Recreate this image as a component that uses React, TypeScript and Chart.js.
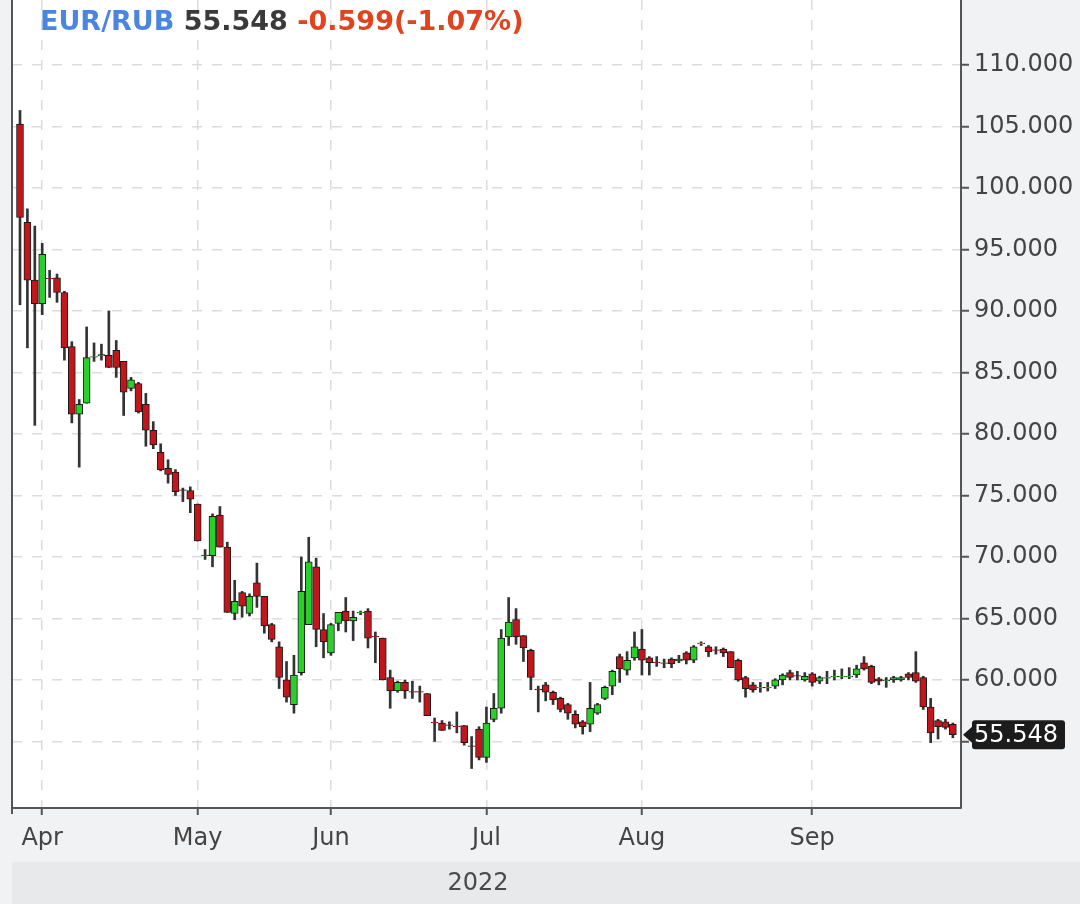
import React, { useEffect, useRef } from 'react';
import { Chart, registerables } from 'chart.js';

Chart.register(...registerables);

// ---- data (trading-day candles, 29 Mar 2022 .. 28 Sep 2022) ----
const opens = [
  105.2, 97.2, 92.5, 90.6, 92.65, 92.7, 91.5, 87.1, 81.6, 82.5,
  86.25, 86.35, 86.4, 86.8, 85.9, 83.7, 84.1, 82.4, 80.3, 78.5,
  77.2, 76.9, 75.45, 75.4, 74.3, 70.15, 70.1, 73.4, 70.8, 65.4,
  67.1, 65.4, 67.9, 66.8, 64.5, 62.7, 60.0, 58.0, 60.6, 64.5,
  69.2, 64.1, 62.2, 64.6, 65.6, 64.8, 65.45, 65.6, 63.55, 63.4,
  60.2, 59.1, 59.8, 59.05, 59.05, 58.9, 56.55, 56.5, 56.35, 56.25,
  56.3, 54.65, 56.0, 53.7, 56.8, 57.7, 63.5, 64.9, 63.6, 62.4,
  59.25, 59.6, 59.0, 58.5, 58.0, 57.2, 56.6, 56.4, 57.3, 58.5,
  59.5, 61.9, 60.8, 61.8, 62.5, 61.8, 61.45, 61.35, 61.7, 61.55,
  62.2, 61.6, 62.95, 62.7, 62.45, 62.5, 62.3, 61.6, 60.2, 59.6,
  59.35, 59.35, 59.5, 60.0, 60.6, 60.35, 60.0, 60.5, 59.9, 60.15,
  60.25, 60.25, 60.25, 60.4, 61.4, 61.1, 60.1, 59.95, 60.0, 60.0,
  60.5, 60.6, 60.2, 57.8, 56.7, 56.6, 56.4,
];
const highs = [
  106.3, 98.3, 96.9, 95.5, 93.3, 93.0, 91.6, 87.5, 82.8, 88.7,
  87.4, 87.3, 90.0, 87.6, 85.9, 84.6, 84.2, 83.3, 81.0, 79.2,
  77.9, 77.1, 75.6, 75.7, 74.3, 70.6, 73.5, 74.1, 71.2, 68.1,
  67.2, 67.0, 69.5, 66.8, 64.6, 63.1, 61.5, 62.0, 70.0, 71.6,
  69.9, 65.4, 64.6, 65.5, 66.7, 65.6, 65.6, 65.8, 63.9, 63.4,
  60.8, 59.9, 60.0, 59.9, 59.5, 58.9, 56.9, 56.7, 56.6, 57.4,
  56.3, 55.4, 56.2, 57.8, 58.9, 64.1, 66.7, 65.8, 63.6, 62.5,
  59.5, 59.8, 59.1, 58.6, 58.1, 57.5, 56.7, 59.8, 58.1, 59.5,
  60.8, 62.1, 62.3, 63.9, 64.1, 61.9, 61.9, 61.7, 61.8, 62.0,
  62.3, 62.8, 63.1, 62.8, 62.7, 62.6, 62.3, 61.7, 60.3, 59.8,
  59.8, 59.8, 60.1, 60.5, 60.8, 60.7, 60.6, 60.6, 60.3, 60.7,
  60.8, 60.9, 61.0, 61.2, 61.9, 61.2, 60.2, 60.2, 60.3, 60.3,
  60.6, 62.3, 60.3, 58.5, 56.8, 56.8, 56.5,
];
const lows = [
  90.5, 87.0, 80.7, 89.7, 91.1, 90.7, 86.0, 80.9, 77.3, 82.5,
  85.9, 86.0, 85.4, 84.6, 81.5, 83.5, 81.7, 79.0, 78.8, 77.0,
  76.0, 75.0, 74.5, 73.6, 71.3, 69.8, 69.2, 70.8, 65.5, 64.9,
  65.1, 65.2, 65.9, 63.8, 63.1, 59.3, 58.2, 57.3, 60.4, 64.5,
  62.7, 61.8, 62.0, 64.0, 63.9, 63.2, 65.3, 62.6, 61.4, 60.0,
  57.7, 59.0, 58.5, 58.5, 58.2, 57.1, 55.0, 55.9, 56.0, 55.7,
  54.7, 52.8, 53.5, 53.3, 56.6, 57.3, 62.8, 62.9, 61.5, 59.2,
  57.4, 58.3, 58.0, 57.4, 56.8, 56.1, 55.6, 55.8, 57.2, 58.4,
  58.8, 59.8, 60.4, 61.6, 60.4, 60.4, 61.1, 61.0, 61.0, 61.4,
  61.3, 61.4, 62.8, 61.9, 62.1, 61.9, 61.0, 59.9, 58.6, 59.0,
  59.0, 59.1, 59.3, 59.6, 60.0, 60.0, 59.9, 59.5, 59.7, 59.7,
  60.0, 60.1, 60.1, 60.2, 60.8, 59.7, 59.6, 59.4, 59.8, 59.9,
  60.0, 59.8, 57.6, 54.9, 55.2, 56.0, 55.3,
];
const closes = [
  97.6, 92.5, 90.6, 94.6, 92.6, 91.5, 87.0, 81.6, 82.4, 86.2,
  86.3, 86.45, 85.4, 85.4, 83.4, 84.4, 81.8, 80.3, 79.1, 77.1,
  76.7, 75.3, 75.4, 74.7, 71.3, 70.1, 73.3, 70.8, 65.5, 66.4,
  66.0, 66.8, 66.8, 64.4, 63.3, 60.2, 58.6, 60.4, 67.2, 69.6,
  64.1, 63.1, 64.5, 65.5, 64.8, 65.1, 65.5, 63.4, 63.5, 60.0,
  59.1, 59.8, 59.1, 59.0, 59.0, 57.1, 56.5, 55.9, 56.3, 56.2,
  54.9, 54.6, 53.7, 56.5, 57.7, 63.4, 64.7, 63.5, 62.6, 60.2,
  59.2, 59.0, 58.4, 57.6, 57.3, 56.4, 56.2, 57.7, 58.0, 59.4,
  60.7, 60.9, 61.6, 62.7, 61.6, 61.4, 61.4, 61.4, 61.3, 61.7,
  61.6, 62.7, 63.0, 62.3, 62.4, 62.2, 61.0, 60.0, 59.3, 59.2,
  59.4, 59.4, 60.0, 60.4, 60.2, 60.3, 60.3, 59.8, 60.2, 60.2,
  60.3, 60.3, 60.3, 60.9, 60.9, 59.8, 59.9, 60.0, 60.2, 60.2,
  60.2, 59.9, 57.8, 55.7, 56.2, 56.147, 55.548,
];

const monthTickIndex = [3, 24, 42, 63, 84, 107];
const monthLabels = ['Apr', 'May', 'Jun', 'Jul', 'Aug', 'Sep'];
const priceTicks = [55, 60, 65, 70, 75, 80, 85, 90, 95, 100, 105, 110];
const yearLabel = '2022';
const symbolText = 'EUR/RUB';
const lastPriceText = '55.548';
const changeText = '-0.599(-1.07%)';

const FONT = "'DejaVu Sans', Verdana, sans-serif";
const UP = '#2bcf2b';
const DOWN = '#c0161c';

export default function App() {
  const canvasRef = useRef<HTMLCanvasElement | null>(null);

  useEffect(() => {
    document.body.style.margin = '0';
    const canvas = canvasRef.current;
    if (!canvas) return;

    const bodies = opens.map((o, i) => ({ x: i, y: [Math.min(o, closes[i]), Math.max(o, closes[i])] }));
    const wicks = lows.map((l, i) => ({ x: i, y: [l, highs[i]] }));
    const colors = opens.map((o, i) => (closes[i] >= o ? UP : DOWN));

    const decor = {
      id: 'decor',
      beforeDraw(chart: any) {
        const { ctx, chartArea: a, width, height } = chart;
        ctx.save();
        ctx.fillStyle = '#f1f2f4';
        ctx.fillRect(0, 0, width, height);
        ctx.fillStyle = '#ffffff';
        ctx.fillRect(a.left, a.top, a.right - a.left, a.bottom - a.top);
        // year band
        ctx.fillStyle = '#e8e9eb';
        ctx.fillRect(a.left, 862, width - a.left, height - 862);
        ctx.fillStyle = '#4a4a4a';
        ctx.font = `24px ${FONT}`;
        ctx.textAlign = 'center';
        ctx.textBaseline = 'middle';
        ctx.fillText(yearLabel, 478, 884);
        ctx.restore();
      },
      afterDraw(chart: any) {
        const { ctx, chartArea: a, scales } = chart;
        ctx.save();
        // left frame line
        ctx.strokeStyle = '#555555';
        ctx.lineWidth = 2;
        ctx.beginPath();
        ctx.moveTo(a.left, 0);
        ctx.lineTo(a.left, a.bottom + 6);
        ctx.stroke();
        // title
        ctx.font = `bold 27px ${FONT}`;
        ctx.textBaseline = 'middle';
        ctx.textAlign = 'left';
        let x = 40;
        const ty = 23;
        const parts: [string, string][] = [
          [symbolText + ' ', '#4a86e0'],
          [lastPriceText + ' ', '#3a3a3a'],
          [changeText, '#e0431d'],
        ];
        for (const [t, c] of parts) {
          ctx.fillStyle = c;
          ctx.fillText(t, x, ty);
          x += ctx.measureText(t).width;
        }
        // last price tag
        const last = closes[closes.length - 1];
        const py = scales.y.getPixelForValue(last);
        const bx = a.right + 11;
        const bw = 93;
        const bh = 29;
        ctx.fillStyle = '#1c1c1c';
        ctx.beginPath();
        ctx.moveTo(a.right + 2, py);
        ctx.lineTo(bx, py - 8);
        ctx.lineTo(bx, py + 8);
        ctx.closePath();
        ctx.fill();
        ctx.beginPath();
        (ctx as any).roundRect(bx, py - bh / 2, bw, bh, 3);
        ctx.fill();
        ctx.fillStyle = '#ffffff';
        ctx.font = `24px ${FONT}`;
        ctx.textAlign = 'left';
        ctx.fillText(lastPriceText, bx + 2, py + 1);
        ctx.restore();
      },
    };

    const chart = new Chart(canvas, {
      type: 'bar',
      data: {
        datasets: [
          {
            label: 'body',
            data: bodies as any,
            backgroundColor: colors,
            borderColor: '#1a1a1a',
            borderWidth: 1,
            borderSkipped: false,
            barThickness: 7,
            grouped: false,
          } as any,
          {
            label: 'wick',
            data: wicks as any,
            backgroundColor: '#333333',
            borderWidth: 0,
            barThickness: 2,
            grouped: false,
          } as any,
        ],
      },
      options: {
        responsive: false,
        animation: false,
        devicePixelRatio: 1,
        layout: { padding: { left: 12, top: 0, right: 0, bottom: 0 } },
        plugins: { legend: { display: false }, tooltip: { enabled: false }, title: { display: false } },
        scales: {
          x: {
            type: 'linear',
            min: -1.08,
            max: 127.1,
            offset: false,
            afterBuildTicks(scale: any) {
              scale.ticks = monthTickIndex.map((v) => ({ value: v }));
            },
            afterFit(scale: any) {
              scale.height = 96;
              scale.paddingLeft = 0;
              scale.paddingRight = 0;
            },
            ticks: {
              autoSkip: false,
              maxRotation: 0,
              padding: 9,
              color: '#444444',
              font: { family: FONT, size: 24 },
              callback: (v: any) => {
                const k = monthTickIndex.indexOf(Number(v));
                return k >= 0 ? monthLabels[k] : '';
              },
            },
            grid: {
              offset: false,
              color: '#dcdcdc',
              lineWidth: 1.5,
              drawTicks: true,
              tickLength: 7,
              tickColor: '#555555',
              tickWidth: 2,
              tickBorderDash: [],
            },
            border: { display: true, color: '#555555', width: 2, dash: [10, 10] },
          } as any,
          y: {
            type: 'linear',
            position: 'right',
            min: 49.59,
            max: 115.28,
            beginAtZero: false,
            afterBuildTicks(scale: any) {
              scale.ticks = priceTicks.map((v) => ({ value: v }));
            },
            afterFit(scale: any) {
              scale.width = 119;
              scale.paddingTop = 0;
              scale.paddingBottom = 0;
            },
            ticks: {
              padding: 5,
              color: '#444444',
              font: { family: FONT, size: 24 },
              callback: (v: any) => (Number(v) === 55 ? '' : Number(v).toFixed(3)),
            },
            grid: {
              color: '#dcdcdc',
              lineWidth: 1.5,
              drawTicks: true,
              tickLength: 8,
              tickColor: '#555555',
              tickWidth: 2,
              tickBorderDash: [],
            },
            border: { display: true, color: '#555555', width: 2, dash: [10, 10] },
          } as any,
        },
      } as any,
      plugins: [decor],
    });

    return () => chart.destroy();
  }, []);

  return (
    <div style={{ position: 'absolute', left: 0, top: 0, width: 1080, height: 904 }}>
      <canvas ref={canvasRef} width={1080} height={904} style={{ width: 1080, height: 904, display: 'block' }} />
    </div>
  );
}
